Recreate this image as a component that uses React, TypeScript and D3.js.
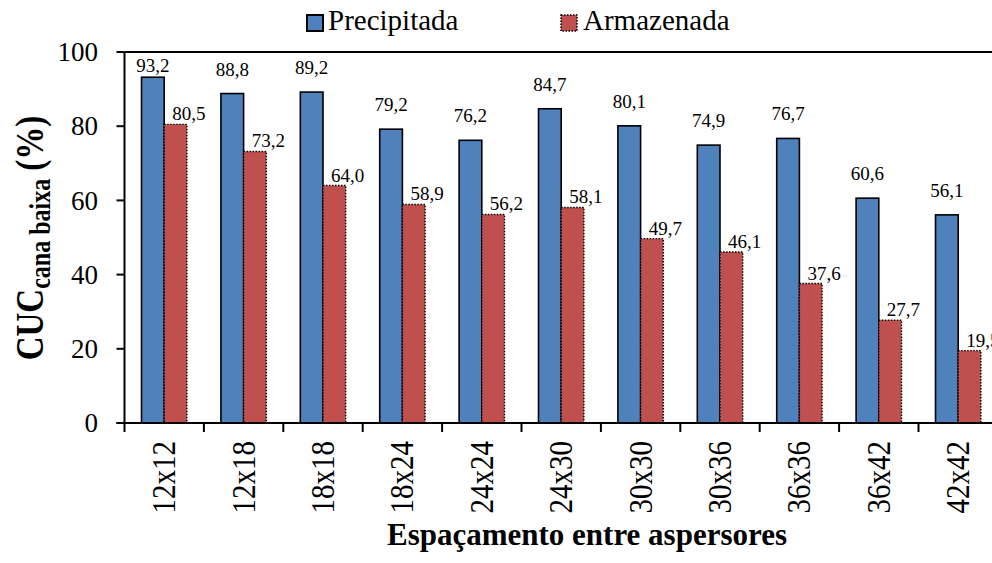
import React from "react";
import * as d3 from "d3";

const categories = ["12x12", "12x18", "18x18", "18x24", "24x24", "24x30", "30x30", "30x36", "36x36", "36x42", "42x42"];
const seriesNames = ["Precipitada", "Armazenada"];
const precipitada = [93.2, 88.8, 89.2, 79.2, 76.2, 84.7, 80.1, 74.9, 76.7, 60.6, 56.1];
const armazenada = [80.5, 73.2, 64.0, 58.9, 56.2, 58.1, 49.7, 46.1, 37.6, 27.7, 19.5];
const yTicks = [0, 20, 40, 60, 80, 100];

const W = 992;
const H = 563;
const left = 124.5;
const step = 79.4;
const top = 52;
const bottom = 423;
const font = "Liberation Serif";
const blue = "#4F81BD";
const red = "#C0504D";

const fmt = (v: number) => v.toFixed(1).replace(".", ",");

const T = (props: any) => <text {...props} style={{ fontFamily: font }} />;

export default function App() {
  const x = d3.scaleBand<string>().domain(categories).range([left, left + step * categories.length]).padding(0);
  const xs = d3.scaleBand<string>().domain(seriesNames).range([0, x.bandwidth()]).paddingInner(0).paddingOuter(0.75);
  const y = d3.scaleLinear().domain([0, 100]).range([bottom, top]);
  const right = left + step * categories.length;
  const bw = xs.bandwidth();
  const boundaries = d3.range(categories.length + 1).map((i) => left + i * x.step());

  return (
    <svg width={W} height={H} style={{ position: "absolute", left: 0, top: 0 }}>
      <rect x={0} y={0} width={W} height={H} fill="#fff" />
      {categories.map((c, i) => {
        const bx = (x(c) as number) + (xs("Precipitada") as number);
        const rx = (x(c) as number) + (xs("Armazenada") as number);
        const pTop = y(precipitada[i]);
        const aTop = y(armazenada[i]);
        return (
          <g key={c}>
            <rect x={bx} y={pTop} width={bw} height={bottom - pTop} fill={blue} stroke="#000" strokeWidth={1.6} />
            <rect x={rx} y={aTop} width={bw} height={bottom - aTop} fill={red} stroke="#000" strokeWidth={1.4} strokeDasharray="1.5,1.5" />
            <T x={bx + bw / 2} y={Math.max(pTop - 18, 72)} fontSize={19} textAnchor="middle">{fmt(precipitada[i])}</T>
            <T x={rx + bw + 2} y={aTop - 4} fontSize={19} textAnchor="middle">{fmt(armazenada[i])}</T>
          </g>
        );
      })}

      <line x1={left} x2={right} y1={top} y2={top} stroke="#000" strokeWidth={2} />
      <line x1={left} x2={left} y1={top} y2={bottom} stroke="#000" strokeWidth={2} />
      <line x1={left - 8} x2={right} y1={bottom} y2={bottom} stroke="#000" strokeWidth={2} />
      {yTicks.map((t) => (
        <g key={t}>
          <line x1={left - 8} x2={left} y1={y(t)} y2={y(t)} stroke="#000" strokeWidth={2} />
          <T x={98} y={y(t)} dy="0.34em" fontSize={27} textAnchor="end">{t}</T>
        </g>
      ))}
      {boundaries.map((b, i) => (
        <line key={i} x1={b} x2={b} y1={bottom} y2={bottom + 9} stroke="#000" strokeWidth={2} />
      ))}
      {categories.map((c) => (
        <T
          key={c}
          transform={`translate(${(x(c) as number) + x.bandwidth() / 2 + 11},441) rotate(-90) scale(1,1.15)`}
          fontSize={29}
          textAnchor="end"
        >
          {c}
        </T>
      ))}

      <T x={587} y={545} fontSize={31} fontWeight="bold" textAnchor="middle">Espaçamento entre aspersores</T>
      <T transform="translate(43,238) rotate(-90) scale(1,1.2)" textAnchor="middle" fontWeight="bold">
        <tspan fontSize={33}>CUC</tspan>
        <tspan fontSize={24} dy={6}>cana baixa</tspan>
        <tspan fontSize={33} dy={-6}> (%)</tspan>
      </T>

      <rect x={307} y={15} width={16} height={16} fill={blue} stroke="#000" strokeWidth={2} />
      <T x={328} y={30} fontSize={29}>Precipitada</T>
      <rect x={561} y={15} width={16} height={16} fill={red} stroke="#000" strokeWidth={1.5} strokeDasharray="1.5,1.5" />
      <T x={583} y={30} fontSize={29}>Armazenada</T>
    </svg>
  );
}
